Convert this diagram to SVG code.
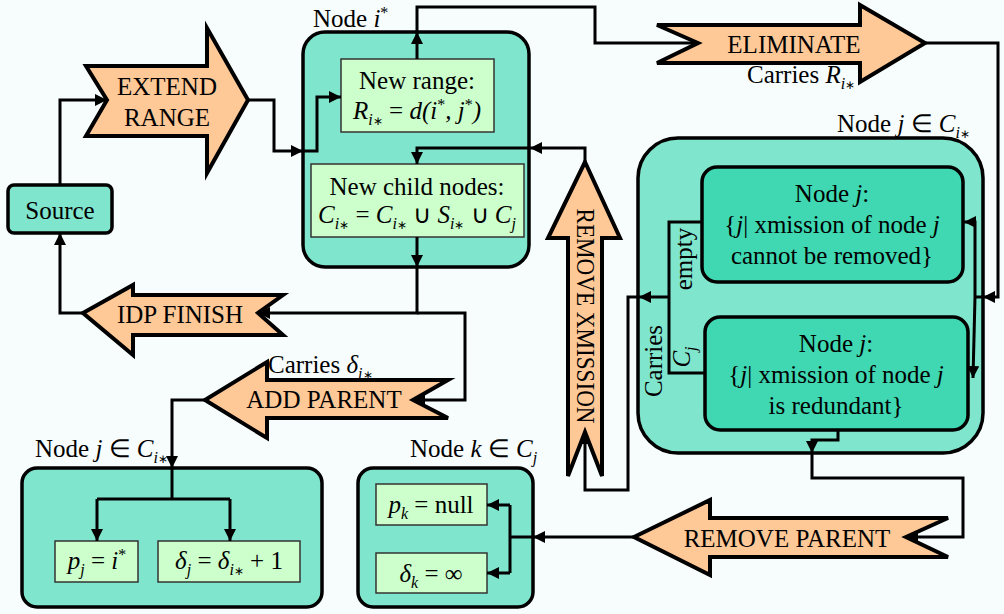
<svg xmlns="http://www.w3.org/2000/svg" width="1004" height="614" viewBox="0 0 1004 614">
<defs>
<marker id="ah" markerUnits="userSpaceOnUse" markerWidth="13" markerHeight="13" refX="12" refY="6" orient="auto">
<path d="M0,0 L12,6 L0,12 z" fill="#000"/>
</marker>
</defs>
<style>
text{font-family:"Liberation Serif","Times New Roman",serif;font-size:25px;fill:#000}
.i{font-style:italic}
.sub{font-size:16px;font-style:italic}
.st{font-size:12px;font-style:normal}
.outer{fill:#80e5cd;stroke:#000;stroke-width:3.5}
.inner{fill:#3fd8b2;stroke:#000;stroke-width:3.5}
.grn{fill:#ccffcc;stroke:#333;stroke-width:1.5}
.blk{fill:#fec897;stroke:#000;stroke-width:4;stroke-linejoin:miter}
.c{fill:none;stroke:#000;stroke-width:3}
.ca{fill:none;stroke:#000;stroke-width:3;marker-end:url(#ah)}
.m{text-anchor:middle}
</style>
<rect width="1004" height="614" fill="#f7fcfc"/>

<g id="source">
<rect x="8" y="185" width="104" height="48" rx="6" class="outer"/>
<text x="60" y="219" class="m">Source</text>
</g>

<g id="extend-range">
<path class="blk" d="M86,66 L207,66 L207,28 L248,100 L207,173 L207,136 L86,136 L107,100 Z"/>
<text x="167" y="95" class="m" font-size="24">EXTEND</text>
<text x="167" y="126" class="m" font-size="24">RANGE</text>
</g>

<g id="eliminate">
<path class="blk" d="M657,25 L860,25 L860,5 L925,43 L860,82 L860,63 L657,63 L698,43 Z"/>
<text x="794" y="53" class="m">ELIMINATE</text>
<text x="747" y="83">Carries <tspan class="i">R</tspan><tspan class="sub" dy="6">i<tspan class="st">∗</tspan></tspan></text>
</g>

<g id="idp-finish">
<path class="blk" d="M83,313 L133,285 L133,295 L283,295 L258,313 L283,335 L133,335 L133,355 Z"/>
<text x="180" y="323" class="m">IDP FINISH</text>
</g>

<g id="add-parent">
<path class="blk" d="M205,400 L267,362 L267,380 L448,380 L413,400 L448,418 L267,418 L267,438 Z"/>
<text x="324" y="408" class="m">ADD PARENT</text>
<text x="268" y="373">Carries <tspan class="i">δ</tspan><tspan class="sub" dy="6">i<tspan class="st">∗</tspan></tspan></text>
</g>

<g id="remove-parent">
<path class="blk" d="M634,537 L710,500 L710,518 L948,518 L906,537 L948,557 L710,557 L710,575 Z"/>
<text x="787" y="547" class="m">REMOVE PARENT</text>
</g>

<g id="remove-xmission">
<path class="blk" d="M585,162 L620,238 L602,238 L602,476 L585,432 L568,476 L568,238 L548,238 Z"/>
<text transform="translate(585,316) rotate(90)" x="0" y="8" class="m" font-size="22" textLength="215" lengthAdjust="spacingAndGlyphs">REMOVE XMISSION</text>
</g>

<g id="node-istar">
<rect x="303" y="32" width="226" height="235" rx="22" class="outer"/>
<text x="313" y="27">Node <tspan class="i">i</tspan><tspan font-size="16" dy="-9">*</tspan></text>
<rect x="341" y="59" width="153" height="73" class="grn"/>
<text x="417" y="89" class="m">New range:</text>
<text x="417" y="119" class="m"><tspan class="i">R</tspan><tspan class="sub" dy="6">i<tspan class="st">∗</tspan></tspan><tspan dy="-6"> = </tspan><tspan class="i">d(i</tspan><tspan font-size="16" dy="-9">*</tspan><tspan class="i" dy="9">, j</tspan><tspan font-size="16" dy="-9">*</tspan><tspan class="i" dy="9">)</tspan></text>
<rect x="311" y="164" width="213" height="73" class="grn"/>
<text x="417" y="195" class="m">New child nodes:</text>
<text x="417" y="223" class="m"><tspan class="i">C</tspan><tspan class="sub" dy="6">i<tspan class="st">∗</tspan></tspan><tspan dy="-6"> = </tspan><tspan class="i">C</tspan><tspan class="sub" dy="6">i<tspan class="st">∗</tspan></tspan><tspan dy="-6"> ∪ </tspan><tspan class="i">S</tspan><tspan class="sub" dy="6">i<tspan class="st">∗</tspan></tspan><tspan dy="-6"> ∪ </tspan><tspan class="i">C</tspan><tspan class="sub" dy="6">j</tspan></text>
</g>

<g id="node-j-eliminate">
<rect x="638" y="138" width="345" height="315" rx="40" class="outer"/>
<text x="837" y="132">Node <tspan class="i">j</tspan> ∈ <tspan class="i">C</tspan><tspan class="sub" dy="6">i<tspan class="st">∗</tspan></tspan></text>
<rect x="702" y="167" width="261" height="115" rx="15" class="inner"/>
<text x="832" y="202" class="m">Node <tspan class="i">j</tspan>:</text>
<text x="832" y="233" class="m">{<tspan class="i">j</tspan>| xmission of node <tspan class="i">j</tspan></text>
<text x="832" y="264" class="m">cannot be removed}</text>
<rect x="705" y="317" width="263" height="113" rx="15" class="inner"/>
<text x="836" y="352" class="m">Node <tspan class="i">j</tspan>:</text>
<text x="836" y="383" class="m">{<tspan class="i">j</tspan>| xmission of node <tspan class="i">j</tspan></text>
<text x="836" y="414" class="m">is redundant}</text>
<text transform="translate(685,259) rotate(-90)" x="0" y="7" class="m">empty</text>
<text transform="translate(685,357) rotate(-90)" x="0" y="5" class="m"><tspan class="i">C</tspan><tspan class="sub" dy="6">j</tspan></text>
<text transform="translate(654,361) rotate(-90)" x="0" y="8" class="m">Carries</text>
</g>

<g id="node-j-parent">
<rect x="22" y="468" width="300" height="139" rx="15" class="outer"/>
<text x="35" y="457">Node <tspan class="i">j</tspan> ∈ <tspan class="i">C</tspan><tspan class="sub" dy="6">i<tspan class="st">∗</tspan></tspan></text>
<rect x="55" y="541" width="83" height="41" class="grn"/>
<text x="97" y="569" class="m"><tspan class="i">p</tspan><tspan class="sub" dy="6">j</tspan><tspan dy="-6"> = </tspan><tspan class="i">i</tspan><tspan font-size="16" dy="-9">*</tspan></text>
<rect x="158" y="541" width="142" height="41" class="grn"/>
<text x="229" y="569" class="m"><tspan class="i">δ</tspan><tspan class="sub" dy="6">j</tspan><tspan dy="-6"> = </tspan><tspan class="i">δ</tspan><tspan class="sub" dy="6">i<tspan class="st">∗</tspan></tspan><tspan dy="-6"> + 1</tspan></text>
</g>

<g id="node-k">
<rect x="358" y="468" width="175" height="139" rx="15" class="outer"/>
<text x="410" y="457">Node <tspan class="i">k</tspan> ∈ <tspan class="i">C</tspan><tspan class="sub" dy="6">j</tspan></text>
<rect x="376" y="484" width="111" height="41" class="grn"/>
<text x="431" y="513" class="m"><tspan class="i">p</tspan><tspan class="sub" dy="6">k</tspan><tspan dy="-6"> = null</tspan></text>
<rect x="376" y="553" width="111" height="40" class="grn"/>
<text x="431" y="582" class="m"><tspan class="i">δ</tspan><tspan class="sub" dy="6">k</tspan><tspan dy="-6"> = ∞</tspan></text>
</g>

<g id="connectors">
<polyline class="ca" points="60,185 60,100 107,100"/>
<polyline class="ca" points="248,100 274,100 274,151 303,151"/>
<polyline class="ca" points="303,151 317,151 317,97 341,97"/>
<polyline class="ca" points="417,59 417,32"/>
<polyline class="c" points="417,32 417,7 595,7 595,43 698,43"/>
<polyline class="ca" points="925,43 998,43 998,297 983,297"/>
<polyline class="c" points="983,297 975,297"/>
<polyline class="ca" points="975,297 975,222 964,222"/>
<polyline class="ca" points="975,297 973,378"/>
<polyline class="c" points="702,222 669,222 669,373 705,373"/>
<polyline class="ca" points="669,297 639,297"/>
<polyline class="ca" points="639,297 628,297 628,490 585,490 585,432"/>
<polyline class="ca" points="585,162 585,148 530,148"/>
<polyline class="ca" points="530,148 417,148 417,164"/>
<polyline class="ca" points="417,237 417,267"/>
<polyline class="ca" points="417,267 417,313 258,313"/>
<polyline class="ca" points="417,313 465,313 465,400 413,400"/>
<polyline class="ca" points="83,313 60,313 60,233"/>
<polyline class="ca" points="205,400 172,400 172,468"/>
<polyline class="c" points="172,468 172,499"/>
<polyline class="c" points="97,499 230,499"/>
<polyline class="ca" points="97,499 97,541"/>
<polyline class="ca" points="230,499 230,541"/>
<polyline class="ca" points="838,430 838,440 812,440 812,453"/>
<polyline class="ca" points="812,453 812,478 963,478 963,537 906,537"/>
<polyline class="ca" points="634,537 533,537"/>
<polyline class="c" points="533,537 510,537"/>
<polyline class="c" points="510,505 510,573"/>
<polyline class="ca" points="510,505 487,505"/>
<polyline class="ca" points="510,573 487,573"/>
</g>
</svg>
